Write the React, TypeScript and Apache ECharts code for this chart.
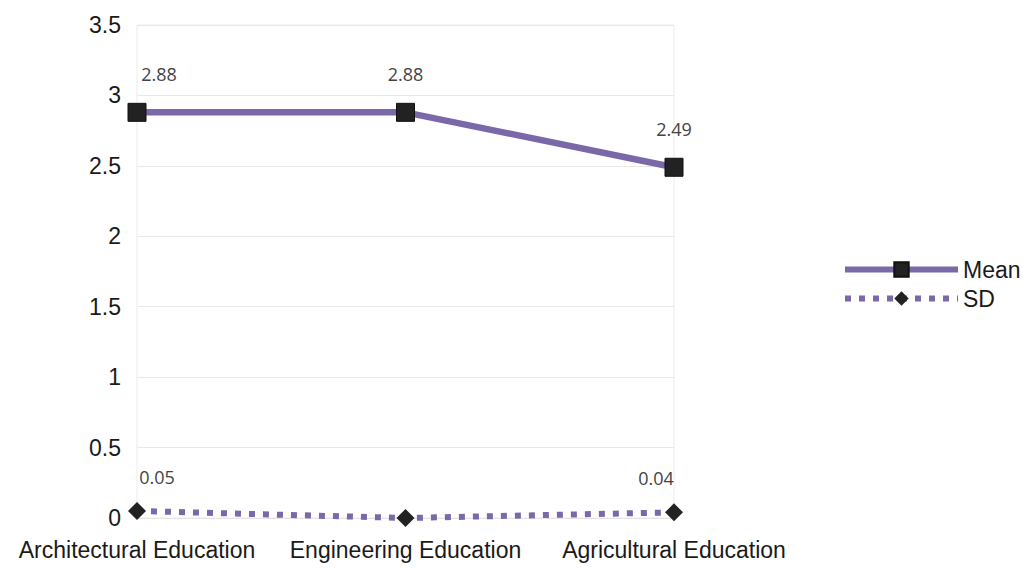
import React, { useEffect, useRef } from "react";
import * as echarts from "echarts";

const categories = ["Architectural Education", "Engineering Education", "Agricultural Education"];
const meanValues = [2.88, 2.88, 2.49];
const sdValues = [0.05, 0.0, 0.04];
const sdLabelShown = [true, false, true];
const yTicks = { min: 0, max: 3.5, interval: 0.5 };

const PURPLE = "#7a68a8";

export default function App() {
  const ref = useRef<HTMLDivElement>(null);
  useEffect(() => {
    if (!ref.current) return;
    const chart = echarts.init(ref.current, undefined, { renderer: "svg" });
    const labelBase = {
      show: true,
      position: "top" as const,
      fontSize: 18,
      color: "#444",
      fontFamily: "Open Sans",
      formatter: (p: any) => p.value.toFixed(2),
    };
    chart.setOption({
      animation: false,
      backgroundColor: "#fff",
      grid: {
        left: 137,
        right: 349,
        top: 25,
        bottom: 54,
        containLabel: false,
        show: true,
        borderColor: "#ececec",
        borderWidth: 1,
      },
      legend: {
        orient: "vertical",
        left: 837,
        top: 253,
        itemWidth: 113,
        itemHeight: 18,
        itemGap: 6,
        lineStyle: { width: 6 },
        textStyle: { fontSize: 23, color: "#1a1a1a", fontFamily: "Liberation Sans" },
        data: ["Mean", "SD"],
      },
      xAxis: {
        type: "category",
        data: categories,
        boundaryGap: false,
        axisLine: { show: true, lineStyle: { color: "#e4e4e4" } },
        axisTick: { show: false },
        axisLabel: {
          fontSize: 23,
          color: "#1a1a1a",
          fontFamily: "Liberation Sans",
          margin: 20,
          interval: 0,
          hideOverlap: false,
        },
        splitLine: { show: false },
      },
      yAxis: {
        type: "value",
        min: yTicks.min,
        max: yTicks.max,
        interval: yTicks.interval,
        axisLine: { show: false },
        axisTick: { show: false },
        axisLabel: { fontSize: 23, color: "#1a1a1a", fontFamily: "Liberation Sans", margin: 16 },
        splitLine: { show: true, lineStyle: { color: "#e8e8e8" } },
      },
      series: [
        {
          name: "Mean",
          type: "line",
          data: meanValues.map((v, i) => ({
            value: v,
            label: { ...labelBase, distance: 20, offset: i === 0 ? [22, 0] : [0, 0] },
          })),
          symbol: "rect",
          symbolSize: 18,
          itemStyle: { color: "#222", borderColor: "#111", borderWidth: 1 },
          lineStyle: { color: PURPLE, width: 6.5 },
          z: 3,
        },
        {
          name: "SD",
          type: "line",
          data: sdValues.map((v, i) => ({
            value: v,
            label: {
              ...labelBase,
              show: sdLabelShown[i],
              distance: 16,
              offset: i === 0 ? [20, 0] : i === 2 ? [-18, 0] : [0, 0],
            },
          })),
          symbol: "diamond",
          symbolSize: 18,
          itemStyle: { color: "#222" },
          lineStyle: { color: PURPLE, width: 6, type: [6, 8] },
          z: 2,
        },
      ],
    });
    return () => chart.dispose();
  }, []);
  return <div ref={ref} style={{ width: 1023, height: 572, position: "absolute", left: 0, top: 0 }} />;
}
